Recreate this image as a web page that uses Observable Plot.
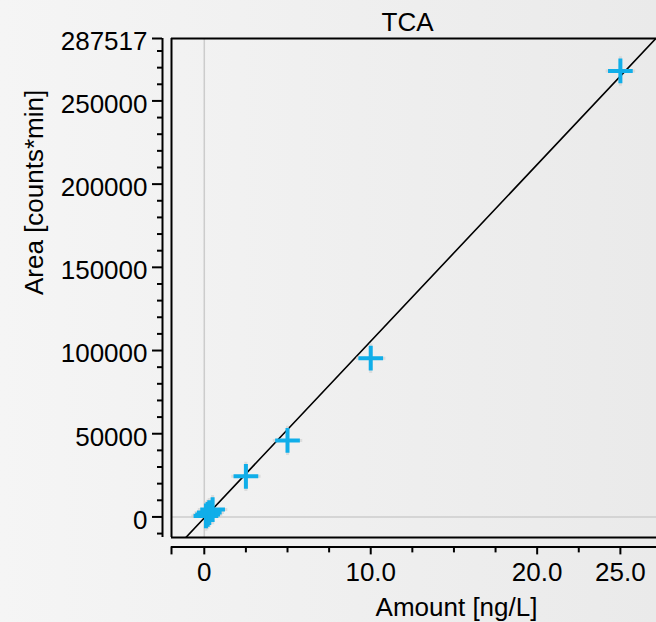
<!DOCTYPE html>
<html>
<head>
<meta charset="utf-8">
<script src="https://cdn.jsdelivr.net/npm/d3@7"></script>
<script src="https://cdn.jsdelivr.net/npm/@observablehq/plot@0.6"></script>
<style>
  html, body { margin: 0; padding: 0; }
  body { width: 656px; height: 622px; overflow: hidden;
         background: linear-gradient(to right, #f5f5f5, #eaeaea);
         font-family: "Liberation Sans", Arial, sans-serif; }
</style>
</head>
<body>
<div id="chart"></div>
<script>
// ---- data ----
const title = "TCA";
const xLabel = "Amount [ng/L]";
const yLabel = "Area [counts*min]";
const amounts = [0.1, 0.2, 0.3, 0.5, 2.5, 5, 10, 25];
const areas = [600, 1500, 2600, 4400, 24400, 46000, 95400, 268000];
const fitSlope = 10620;
const fitIntercept = -600;
const xDomain = [-1.97, 27.17];
const yDomain = [-12360, 287517];
const xMajorTicks = [0, 10, 20, 25];
const xMajorLabels = ["0", "10.0", "20.0", "25.0"];
const xMinorTicks = [2.5, 5, 7.5, 12.5, 15, 17.5, 22.5];
const yMajorTicks = [0, 50000, 100000, 150000, 200000, 250000, 287517];
const yMinorTicks = d3.range(-10000, 285000, 10000).filter(v => v % 50000 !== 0);

const points = amounts.map((a, i) => ({x: a, y: areas[i]}));
const fitLine = xDomain.map(x => ({x, y: fitSlope * x + fitIntercept}));

const blue = "#10aee9";
const fs = 26;
const axisOff = 9.4;

const chart = Plot.plot({
  width: 656,
  height: 622,
  marginLeft: 171,
  marginRight: 0,
  marginTop: 38,
  marginBottom: 85,
  style: {background: "transparent", fontFamily: "'Liberation Sans', Arial, sans-serif", fontSize: fs + "px", color: "black"},
  x: {domain: xDomain},
  y: {domain: yDomain},
  marks: [
    // zero reference lines
    Plot.ruleX([0], {stroke: "#cccccc", strokeWidth: 1.5}),
    Plot.ruleY([0], {stroke: "#cccccc", strokeWidth: 1.5}),
    // frame (left, top, bottom)
    Plot.ruleX([xDomain[0]], {stroke: "black", strokeWidth: 2}),
    Plot.ruleY([yDomain[1]], {stroke: "black", strokeWidth: 2}),
    Plot.ruleY([yDomain[0]], {stroke: "black", strokeWidth: 2}),
    // y axis (offset left)
    Plot.ruleX([xDomain[0]], {y1: yDomain[0], y2: yDomain[1], dx: -9, stroke: "black", strokeWidth: 2}),
    Plot.axisY({ticks: yMajorTicks, tickSize: 10, dx: -9, fill: "none", strokeWidth: 2, label: null}),
    Plot.axisY({ticks: yMinorTicks, tickSize: 5, dx: -9, fill: "none", strokeWidth: 2, label: null}),
    Plot.axisY({ticks: yMajorTicks, tickSize: 0, tickPadding: 15, dx: -9, dy: 3.5, tickFormat: d => String(d), fontSize: fs, label: null}),
    // x axis (offset down)
    Plot.ruleY([yDomain[0]], {x1: xDomain[0], x2: xDomain[1], dy: axisOff, stroke: "black", strokeWidth: 2}),
    Plot.axisX({ticks: [xDomain[0], ...xMajorTicks], tickSize: 8, dy: axisOff, fill: "none", strokeWidth: 2, label: null}),
    Plot.axisX({ticks: xMinorTicks, tickSize: 6, dy: axisOff, fill: "none", strokeWidth: 2, label: null}),
    Plot.axisX({ticks: xMajorTicks, tickSize: 0, tickPadding: 16, dy: axisOff, tickFormat: d => xMajorLabels[xMajorTicks.indexOf(d)], fontSize: fs, label: null}),
    // regression line
    Plot.line(fitLine, {x: "x", y: "y", stroke: "black", strokeWidth: 1.6, clip: true}),
    // data points
    Plot.dot(points, {x: "x", y: "y", symbol: "plus", r: 9.5, stroke: "#cfcfcf", strokeWidth: 3, strokeOpacity: 0.6}),
    Plot.dot(points, {x: "x", y: "y", symbol: "plus", r: 8, stroke: blue, strokeWidth: 4}),
    // titles
    Plot.text([title], {frameAnchor: "top", dx: -6.5, dy: -16, lineAnchor: "middle", fontSize: fs, fill: "black"}),
    Plot.text([xLabel], {frameAnchor: "bottom", dx: 42.5, dy: 70.5, lineAnchor: "middle", fontSize: fs, fill: "black"}),
    Plot.text([yLabel], {frameAnchor: "left", dx: -137, dy: 7, rotate: -90, lineAnchor: "middle", fontSize: fs, fill: "black"})
  ]
});
document.getElementById("chart").appendChild(chart);
</script>
</body>
</html>
